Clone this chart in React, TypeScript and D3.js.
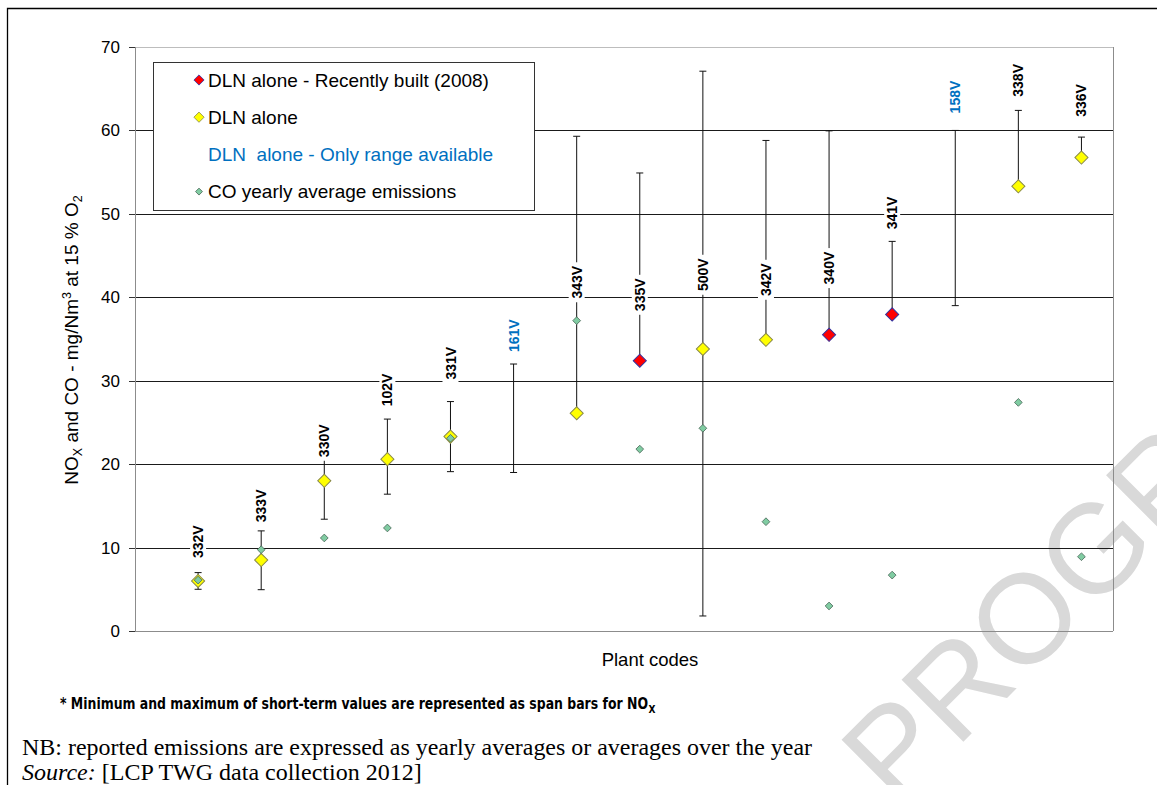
import React from "react";
import * as d3 from "d3";

const plants = ["332V", "333V", "330V", "102V", "331V", "161V", "343V", "335V", "500V", "342V", "340V", "341V", "158V", "338V", "336V"];
// R = recently built (2008), Y = DLN alone, B = only range available
const groups = ["Y", "Y", "Y", "Y", "Y", "B", "Y", "R", "Y", "Y", "R", "R", "B", "Y", "Y"];
const noxAvg: (number | null)[] = [6.0, 8.5, 18.0, 20.6, 23.3, null, 26.1, 32.4, 33.8, 34.9, 35.5, 37.95, null, 53.3, 56.75];
const noxMin = [5.0, 4.95, 13.4, 16.4, 19.1, 19.0, 26.1, 32.4, 1.8, 34.9, 35.5, 37.95, 39.0, 53.3, 56.75];
const noxMax = [7.0, 12.0, 21.0, 25.4, 27.5, 32.0, 59.3, 54.9, 67.1, 58.8, 59.95, 46.7, 60.0, 62.4, 59.2];
const coAvg: (number | null)[] = [6.1, 9.75, 11.15, 12.35, 23.1, null, 37.2, 21.8, 24.3, 13.1, 3.0, 6.7, null, 27.4, 8.9];
// value (data units) at which each plant-code label is centred
const labelAt = [10.7, 15.0, 22.8, 28.9, 32.1, 35.4, 41.8, 40.3, 42.7, 42.1, 43.5, 50.1, 64.0, 66.0, 63.6];
const yTicks = [0, 10, 20, 30, 40, 50, 60, 70];
const legendItems = [
  { key: "R", text: "DLN alone - Recently built (2008)" },
  { key: "Y", text: "DLN alone" },
  { key: "B", text: "DLN  alone - Only range available" },
  { key: "C", text: "CO yearly average emissions" },
];

const W = 1157;
const H = 785;
const PL = 135, PR = 1113, PT = 47, PB = 631;

const x = d3.scaleLinear().domain([-1, 14.5]).range([PL, PR]);
const y = d3.scaleLinear().domain([0, 70]).range([PB, PT]);

const bigDiamond = d3.symbol(d3.symbolSquare, 86)()!;
const smallDiamond = d3.symbol(d3.symbolSquare, 30)()!;
const legBig = d3.symbol(d3.symbolSquare, 52)()!;
const legSmall = d3.symbol(d3.symbolSquare, 24)()!;

const SANS = "'Liberation Sans', Arial, sans-serif";
const SERIF = "'Liberation Serif', 'Times New Roman', serif";
const NARROW = "'Liberation Sans Narrow', 'DejaVu Sans Condensed', sans-serif";
const BLUE = "#0070C0";
const styles: Record<string, { fill: string; stroke: string }> = {
  R: { fill: "#FF0000", stroke: "#3333a0" },
  Y: { fill: "#FFFF00", stroke: "#8a8a4a" },
  C: { fill: "#80CCA2", stroke: "#4d6b5c" },
};

export default function App() {
  return (
    <svg width={W} height={H} style={{ position: "absolute", left: 0, top: 0, background: "#fff" }} fontFamily={SANS}>
      {/* watermark */}
      <text transform="translate(896,809) rotate(-45)" fontSize={127} fill="#d9d9d9" fontFamily={SANS}>
        PROGRESS
      </text>

      {/* outer frame */}
      <path d={`M7.5,${H} V8.5 H${W}`} fill="none" stroke="#000" strokeWidth={1.3} />

      {/* gridlines */}
      {yTicks.filter((t) => t > 0 && t < 70).map((t) => (
        <line key={t} x1={PL} x2={PR} y1={Math.round(y(t)) + 0.5} y2={Math.round(y(t)) + 0.5} stroke="#1a1a1a" strokeWidth={1} />
      ))}
      {/* plot border */}
      <line x1={PL} x2={PR} y1={PT + 0.5} y2={PT + 0.5} stroke="#bdbdbd" />
      <line x1={PR + 0.5} x2={PR + 0.5} y1={PT} y2={PB} stroke="#8c8c8c" />
      <line x1={PL} x2={PR} y1={PB + 0.5} y2={PB + 0.5} stroke="#8c8c8c" />
      <line x1={PL + 0.5} x2={PL + 0.5} y1={PT} y2={PB + 1} stroke="#8c8c8c" />

      {/* y ticks */}
      {yTicks.map((t) => (
        <g key={t}>
          <line x1={PL - 6} x2={PL} y1={Math.round(y(t)) + 0.5} y2={Math.round(y(t)) + 0.5} stroke="#333" />
          <text x={PL - 15} y={y(t)} dy="0.35em" textAnchor="end" fontSize={17} fill="#000">
            {t}
          </text>
        </g>
      ))}

      {/* error / range bars */}
      {plants.map((p, i) => {
        const cx = x(i);
        const y1 = y(noxMax[i]);
        const y2 = y(noxMin[i]);
        return (
          <g key={p} stroke="#111" strokeWidth={1}>
            <line x1={cx} x2={cx} y1={y1} y2={y2} />
            <line x1={cx - 3.5} x2={cx + 3.5} y1={y1} y2={y1} />
            <line x1={cx - 3.5} x2={cx + 3.5} y1={y2} y2={y2} />
          </g>
        );
      })}

      {/* plant labels */}
      {plants.map((p, i) => {
        const cx = x(i);
        const cy = y(labelAt[i]);
        return (
          <g key={p} transform={`translate(${cx},${cy}) rotate(-90)`}>
            <rect x={-20} y={-8} width={40} height={16} fill="#fff" />
            <text textAnchor="middle" dy="0.36em" fontSize={14} fontWeight="bold" fill={groups[i] === "B" ? BLUE : "#000"}>
              {p}
            </text>
          </g>
        );
      })}

      {/* NOx averages */}
      {plants.map((p, i) =>
        noxAvg[i] == null ? null : (
          <path
            key={p}
            d={bigDiamond}
            transform={`translate(${x(i)},${y(noxAvg[i] as number)}) rotate(45)`}
            fill={styles[groups[i]].fill}
            stroke={styles[groups[i]].stroke}
            strokeWidth={1}
          />
        )
      )}

      {/* CO averages */}
      {plants.map((p, i) =>
        coAvg[i] == null ? null : (
          <path
            key={p}
            d={smallDiamond}
            transform={`translate(${x(i)},${y(coAvg[i] as number)}) rotate(45)`}
            fill={styles.C.fill}
            stroke={styles.C.stroke}
            strokeWidth={0.8}
          />
        )
      )}

      {/* legend */}
      <rect x={153.5} y={62.5} width={381} height={148} fill="#fff" stroke="#333" />
      {legendItems.map((it, k) => {
        const ly = 80 + k * 37.2;
        return (
          <g key={it.key}>
            {it.key !== "B" && (
              <path
                d={it.key === "C" ? legSmall : legBig}
                transform={`translate(199,${ly}) rotate(45)`}
                fill={styles[it.key].fill}
                stroke={styles[it.key].stroke}
                strokeWidth={0.8}
              />
            )}
            <text x={208} y={ly} dy="0.36em" fontSize={19} fill={it.key === "B" ? BLUE : "#000"} style={{ whiteSpace: "pre" }}>
              {it.text}
            </text>
          </g>
        );
      })}

      {/* y axis title */}
      <text transform="translate(78,340) rotate(-90)" textAnchor="middle" fontSize={19} fill="#000">
        NO<tspan fontSize={12.5} dy={4}>X</tspan>
        <tspan dy={-4}> and CO - mg/Nm</tspan>
        <tspan fontSize={12.5} dy={-7}>3</tspan>
        <tspan dy={7}> at 15 % O</tspan>
        <tspan fontSize={12.5} dy={4}>2</tspan>
      </text>

      {/* x axis title */}
      <text x={650} y={666} textAnchor="middle" fontSize={18.5} fill="#000">
        Plant codes
      </text>

      {/* footnote */}
      <text x={60} y={709} fontSize={15} fontWeight="bold" fontFamily={NARROW} textLength={588} lengthAdjust="spacingAndGlyphs" fill="#000">
        * Minimum and maximum of short-term values are represented as span bars for NO
      </text>
      <text x={648.5} y={713} fontSize={10} fontWeight="bold" fontFamily={NARROW} fill="#000">
        X
      </text>

      {/* notes */}
      <text x={22} y={755} fontSize={23.5} fontFamily={SERIF} textLength={790} lengthAdjust="spacingAndGlyphs" fill="#000">
        NB: reported emissions are expressed as yearly averages or averages over the year
      </text>
      <text x={22} y={780} fontSize={24} fontFamily={SERIF} fill="#000">
        <tspan fontStyle="italic">Source:</tspan> [LCP TWG data collection 2012]
      </text>
    </svg>
  );
}
